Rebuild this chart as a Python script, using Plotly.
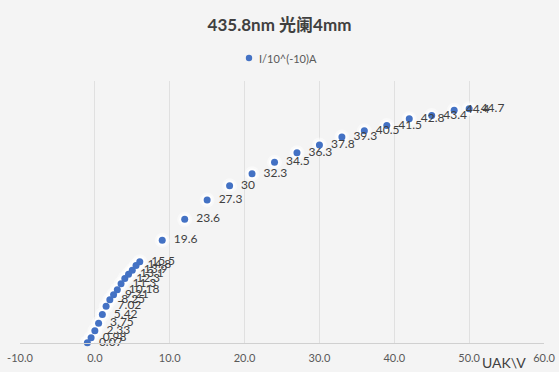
import plotly.graph_objects as go

# Data
voltage = [-1, -0.5, 0, 0.5, 1, 1.5, 2, 2.5, 3, 3.5, 4, 4.5, 5, 5.5, 6,
           9, 12, 15, 18, 21, 24, 27, 30, 33, 36, 39, 42, 45, 48, 50]
current = [0.07, 0.98, 2.33, 3.75, 5.42, 7.02, 8.25, 9.21, 10.18, 11.3, 12.3, 13.1, 13.9, 14.8, 15.5,
           19.6, 23.6, 27.3, 30, 32.3, 34.5, 36.3, 37.8, 39.3, 40.5, 41.5, 42.8, 43.4, 44.4, 44.7]
labels = [str(v) for v in current]

series_name = "I/10^(-10)A"
title_text = "435.8nm 光阑4mm"
x_title = "UAK\\V"
x_ticks = [-10, 0, 10, 20, 30, 40, 50, 60]
x_ticklabels = ["-10.0", "0.0", "10.0", "20.0", "30.0", "40.0", "50.0", "60.0"]

BLUE = "#4472C4"
BG = "#f4f4f4"
FONT = "Lato, 'Noto Sans CJK SC', sans-serif"

W, H = 559, 372
ML, MR, MT, MB = 20, 15, 81, 29
pw, ph = W - ML - MR, H - MT - MB

fig = go.Figure()

# glow halo behind markers
fig.add_trace(go.Scatter(x=voltage, y=current, mode="markers",
                         marker=dict(size=15, color="white", opacity=0.45),
                         showlegend=False, hoverinfo="skip"))
fig.add_trace(go.Scatter(x=voltage, y=current, mode="markers",
                         marker=dict(size=11, color="white", opacity=0.85),
                         showlegend=False, hoverinfo="skip"))

fig.add_trace(go.Scatter(
    x=voltage, y=current, mode="markers+text", name=series_name,
    marker=dict(size=7, color=BLUE),
    text=["  " + t for t in labels], textposition="middle right",
    textfont=dict(family=FONT, size=12, color="#404040"),
    showlegend=False, cliponaxis=False,
))

# manual legend entry (circle glyph + text), positioned in plot-area paper coords
cx = (249 - ML) / pw
cy = (H - MB - 58) / ph
fig.add_shape(type="circle", xref="paper", yref="paper",
              x0=cx - 3.2 / pw, x1=cx + 3.2 / pw,
              y0=cy - 3.2 / ph, y1=cy + 3.2 / ph,
              fillcolor=BLUE, line=dict(width=0))

fig.update_layout(
    width=W, height=H,
    paper_bgcolor=BG, plot_bgcolor=BG,
    margin=dict(l=ML, r=MR, t=MT, b=MB, autoexpand=False),
    title=dict(text="<b>" + title_text + "</b>", x=0.5, xanchor="center",
               y=1 - 25 / H, yanchor="middle",
               font=dict(family=FONT, size=17, color="#404040")),
    showlegend=False,
    xaxis=dict(range=[-10, 60], tickvals=x_ticks, ticktext=x_ticklabels,
               showgrid=True, gridcolor="#e0e0e0", gridwidth=1, automargin=False,
               zeroline=False, showline=True, linecolor="#d0d0d0",
               ticks="", ticklabelstandoff=5,
               tickfont=dict(family=FONT, size=11, color="#595959")),
    yaxis=dict(range=[0, 50], showgrid=False, zeroline=False, automargin=False,
               showticklabels=False, showline=False, ticks=""),
    annotations=[
        dict(text=x_title, xref="x", yref="paper", x=54.6, y=0,
             yshift=-19, showarrow=False, xanchor="center", yanchor="middle",
             font=dict(family=FONT, size=14, color="#404040")),
        dict(text=series_name, xref="paper", yref="paper",
             x=(257 - ML) / pw, y=cy,
             showarrow=False, xanchor="left", yanchor="middle",
             font=dict(family=FONT, size=11, color="#595959")),
    ],
)

fig.write_html("out.html", config={"displayModeBar": False},
               post_script="document.body.style.margin='0';document.body.style.overflow='hidden';")
